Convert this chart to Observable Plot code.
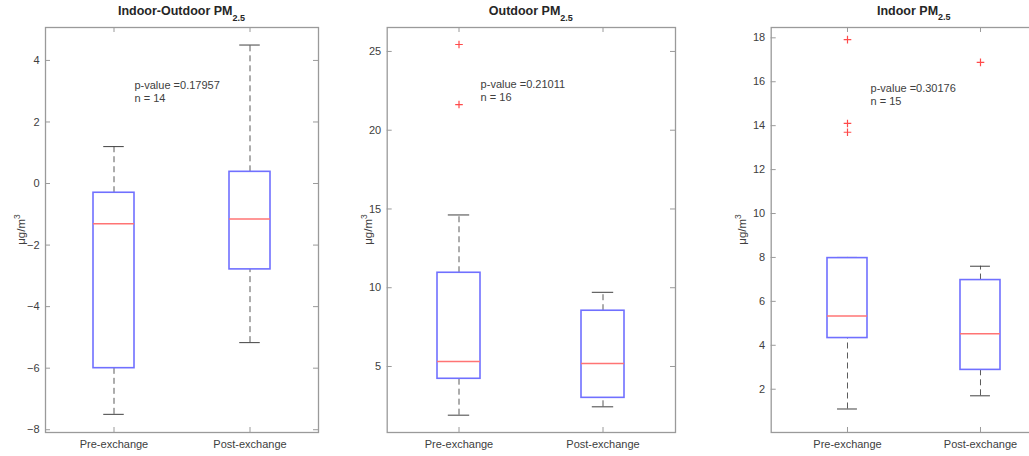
<!DOCTYPE html>
<html><head><meta charset="utf-8">
<script src="https://cdn.jsdelivr.net/npm/d3@7"></script>
<script src="https://cdn.jsdelivr.net/npm/@observablehq/plot@0.6"></script>
<style>
body{margin:0;background:#fff;overflow:hidden}
#wrap{position:relative;width:1029px;height:456px;overflow:hidden;background:#fff}
#wrap > svg{position:absolute;top:0}
</style></head><body><div id="wrap"></div>
<script>
// ---- data ----
const categories = ["Pre-exchange", "Post-exchange"];

// Panel 1: Indoor-Outdoor PM2.5
const ioTitle = "Indoor-Outdoor PM";
const ioLowWhisker = [-7.5, -5.17];
const ioQ1 = [-6.0, -2.79];
const ioMedian = [-1.31, -1.15];
const ioQ3 = [-0.3, 0.38];
const ioHighWhisker = [1.2, 4.5];
const ioOutlierCat = [];
const ioOutlierVal = [];
const ioTicks = [-8, -6, -4, -2, 0, 2, 4];
const ioDomain = [-8.09, 5.07];
const ioP = "0.17957", ioN = 14, ioAnnotY = 3;

// Panel 2: Outdoor PM2.5
const outTitle = "Outdoor PM";
const outLowWhisker = [1.91, 2.44];
const outQ1 = [4.22, 3.01];
const outMedian = [5.32, 5.19];
const outQ3 = [10.95, 8.54];
const outHighWhisker = [14.62, 9.71];
const outOutlierCat = ["Pre-exchange", "Pre-exchange"];
const outOutlierVal = [25.44, 21.63];
const outTicks = [5, 10, 15, 20, 25];
const outDomain = [0.81, 26.52];
const outP = "0.21011", outN = 16, outAnnotY = 22.5;

// Panel 3: Indoor PM2.5
const inTitle = "Indoor PM";
const inLowWhisker = [1.1, 1.7];
const inQ1 = [4.33, 2.88];
const inMedian = [5.33, 4.53];
const inQ3 = [7.97, 6.97];
const inHighWhisker = [8.0, 7.6];
const inOutlierCat = ["Pre-exchange", "Pre-exchange", "Pre-exchange", "Post-exchange"];
const inOutlierVal = [17.92, 14.1, 13.7, 16.88];
const inTicks = [2, 4, 6, 8, 10, 12, 14, 16, 18];
const inDomain = [0.03, 18.47];
const inP = "0.30176", inN = 15, inAnnotY = 15.44;

// ---- drawing ----
const FONT = "Liberation Sans, Arial, Helvetica, sans-serif";
const TEXT = "#404040";
const FRAME = "#9a9a9a";
const plusSymbol = {
  draw(ctx, size) {
    const h = Math.sqrt(size / Math.PI);
    ctx.moveTo(-h, 0); ctx.lineTo(h, 0);
    ctx.moveTo(0, -h); ctx.lineTo(0, h);
  }
};

function panel(o) {
  const height = 456, marginTop = 27, marginBottom = 24;
  const W = o.width - o.marginLeft - o.marginRight;
  const H = height - marginTop - marginBottom;
  const pi = 0.7, po = o.paddingOuter;
  const step = W / (2 - pi + 2 * po);
  const bw = step * (1 - pi);
  const rows = categories.map((c, i) => ({
    cat: c, lo: o.lo[i], q1: o.q1[i], med: o.med[i], q3: o.q3[i], hi: o.hi[i]
  }));
  const outs = o.outCat.map((c, i) => ({cat: c, v: o.outVal[i]}));
  const svg = Plot.plot({
    width: o.width, height,
    marginLeft: o.marginLeft, marginRight: o.marginRight,
    marginTop, marginBottom,
    style: {fontFamily: FONT, fontSize: "11px", color: TEXT, background: "white"},
    x: {type: "band", domain: categories, paddingInner: pi, paddingOuter: po},
    y: {domain: o.domain},
    marks: [
      Plot.frame({stroke: FRAME, strokeWidth: 1.3}),
      // inward ticks
      Plot.tickY(o.ticks, {y: d => d, insetRight: W - 5, stroke: FRAME}),
      Plot.tickY(o.ticks, {y: d => d, insetLeft: W - 5, stroke: FRAME}),
      Plot.tickX(categories, {x: d => d, insetBottom: H - 5, stroke: FRAME}),
      Plot.tickX(categories, {x: d => d, insetTop: H - 5, stroke: FRAME}),
      // whiskers
      Plot.ruleX(rows, {x: "cat", y1: "q3", y2: "hi", stroke: "#5a5a5a", strokeDasharray: "6,4"}),
      Plot.ruleX(rows, {x: "cat", y1: "lo", y2: "q1", stroke: "#5a5a5a", strokeDasharray: "6,4"}),
      Plot.tickY(rows, {x: "cat", y: "hi", stroke: "#404040", inset: bw / 4}),
      Plot.tickY(rows, {x: "cat", y: "lo", stroke: "#404040", inset: bw / 4}),
      // boxes
      Plot.barY(rows, {x: "cat", y1: "q1", y2: "q3", fill: "none", stroke: "#7070ff", strokeWidth: 1.6}),
      Plot.tickY(rows, {x: "cat", y: "med", stroke: "#ff7474", strokeWidth: 1.5}),
      // outliers
      Plot.dot(outs, {x: "cat", y: "v", symbol: plusSymbol, r: 3.8, stroke: "#ff4a4a", strokeWidth: 1.2, fill: "none"}),
      // annotation
      Plot.text([`p-value =${o.p}\nn = ${o.n}`], {
        x: () => categories[0], y: () => o.annotY, text: d => d,
        textAnchor: "start", dx: bw / 2 + o.annotDx, lineHeight: 1.18, fill: TEXT, fontSize: 11
      }),
      Plot.axisY(o.ticks, {tickSize: 0, tickPadding: 6, label: null}),
      Plot.axisX({tickSize: 0, tickPadding: 8, label: null})
    ]
  });
  const s = d3.select(svg).style("left", o.left + "px");
  const cx = o.marginLeft + W / 2;
  const t = s.append("text").attr("x", cx).attr("y", 15)
    .attr("text-anchor", "middle").attr("font-weight", "bold")
    .attr("font-size", 12.5).attr("fill", "#262626").text(o.title);
  t.append("tspan").attr("dy", 5.5).attr("font-size", 9).text("2.5");
  const lab = s.append("text")
    .attr("transform", `translate(${o.ylabX + 4},${marginTop + H / 2}) rotate(-90)`)
    .attr("text-anchor", "middle").attr("font-size", 11.5).attr("fill", TEXT)
    .text("\u03bcg/m");
  lab.append("tspan").attr("dy", -5).attr("font-size", 8.5).text("3");
  document.getElementById("wrap").appendChild(svg);
}

panel({left: 0, width: 330, marginLeft: 45, marginRight: 12, paddingOuter: 0.35, annotDx: 0, ylabX: 21,
  lo: ioLowWhisker, q1: ioQ1, med: ioMedian, q3: ioQ3, hi: ioHighWhisker,
  outCat: ioOutlierCat, outVal: ioOutlierVal, ticks: ioTicks, domain: ioDomain,
  p: ioP, n: ioN, annotY: ioAnnotY, title: ioTitle});
panel({left: 340, width: 345, marginLeft: 46.7, marginRight: 10, paddingOuter: 0.35, annotDx: 0, ylabX: 28,
  lo: outLowWhisker, q1: outQ1, med: outMedian, q3: outQ3, hi: outHighWhisker,
  outCat: outOutlierCat, outVal: outOutlierVal, ticks: outTicks, domain: outDomain,
  p: outP, n: outN, annotY: outAnnotY, title: outTitle});
panel({left: 690, width: 376.9, marginLeft: 80.7, marginRight: 10, paddingOuter: 0.418, annotDx: 3, ylabX: 52,
  lo: inLowWhisker, q1: inQ1, med: inMedian, q3: inQ3, hi: inHighWhisker,
  outCat: inOutlierCat, outVal: inOutlierVal, ticks: inTicks, domain: inDomain,
  p: inP, n: inN, annotY: inAnnotY, title: inTitle});
</script></body></html>
